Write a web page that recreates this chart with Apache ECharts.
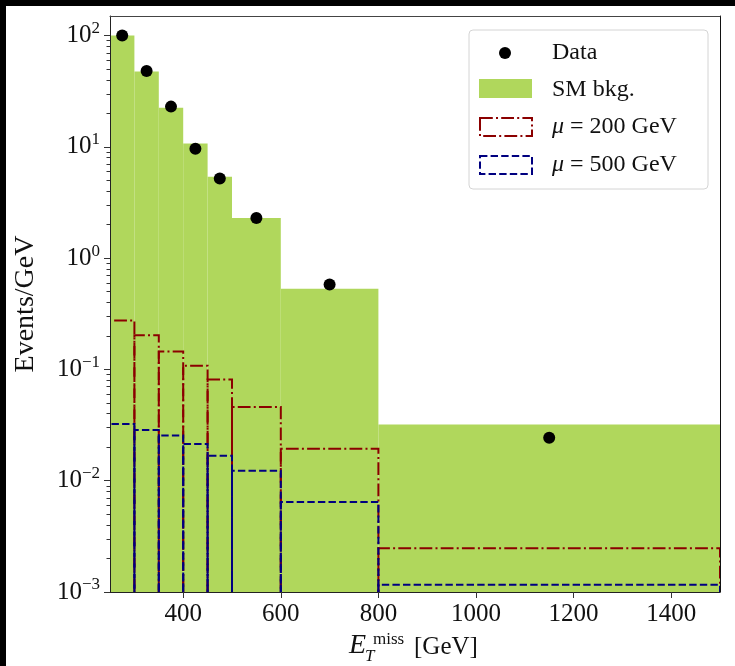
<!DOCTYPE html>
<html>
<head>
<meta charset="utf-8">
<script src="https://cdn.jsdelivr.net/npm/echarts@6/dist/echarts.min.js"></script>
<style>
html, body { margin: 0; padding: 0; background: #000; }
#main { position: absolute; left: 6px; top: 6px; width: 729px; height: 660px; background: #fff; }
</style>
</head>
<body>
<div id="main"></div>
<script>
// bin edges and histogram heights
var binEdges = [250, 300, 350, 400, 450, 500, 600, 800, 1500];
var smBkg = [100, 47.5, 22.5, 10.7, 5.4, 2.3, 0.53, 0.032];
var mu200 = [0.275, 0.203, 0.145, 0.108, 0.081, 0.046, 0.0194, 0.00247];
var mu500 = [0.0324, 0.0286, 0.0255, 0.0214, 0.0168, 0.0123, 0.00645, 0.00116];
// measured points
var dataX = [275, 325, 375, 425, 475, 550, 700, 1150];
var dataY = [100, 48, 23, 9.6, 5.2, 2.3, 0.58, 0.0243];
// ticks
var xTicks = [400, 600, 800, 1000, 1200, 1400];
var yTicks = [0.001, 0.01, 0.1, 1, 10, 100];
var yMin = 0.001, yMax = 150;

var serif = "Liberation Serif";
var green = "#b0d75c";

// minor ticks 2..9 in every decade
var yMinor = [];
yTicks.forEach(function (d) {
  for (var k = 2; k <= 9; k++) {
    if (k * d < yMax) yMinor.push(+(k * d).toPrecision(3));
  }
});

function bins(vals) {
  return vals.map(function (v, i) { return [binEdges[i], binEdges[i + 1], v]; });
}

function barItem(params, api) {
  var p0 = api.coord([api.value(0), api.value(2)]);
  var p1 = api.coord([api.value(1), yMin]);
  return {
    type: "rect",
    shape: { x: p0[0], y: p0[1], width: p1[0] - p0[0], height: p1[1] - p0[1] },
    style: { fill: green }
  };
}

function outline(color, dash) {
  return function (params, api) {
    var x0 = api.value(0), x1 = api.value(1), v = api.value(2);
    return {
      type: "polyline",
      shape: { points: [api.coord([x0, yMin]), api.coord([x0, v]), api.coord([x1, v]), api.coord([x1, yMin])] },
      style: { stroke: color, fill: "none", lineWidth: 2, lineDash: dash }
    };
  };
}

var dashDot = [12.8, 3.2, 2, 3.2];
var dashed = [7.4, 3.2];

var myChart = echarts.init(document.getElementById("main"));

var option = {
  animation: false,
  grid: { left: 104, right: 15, top: 10, bottom: 74, containLabel: false, outerBoundsMode: "none" },
  xAxis: [
    {
      type: "value", min: 250, max: 1500, z: 10,
      axisLine: { onZero: false, lineStyle: { color: "#222", width: 1 } },
      axisTick: { customValues: xTicks, length: 6, lineStyle: { color: "#333" } },
      axisLabel: {
        customValues: xTicks, margin: 10, color: "#111", fontSize: 25, fontFamily: serif,
        formatter: function (v) { return String(v); }
      },
      splitLine: { show: false }
    },
    {
      type: "value", min: 250, max: 1500, position: "top", z: 10,
      axisLine: { onZero: false, lineStyle: { color: "#444", width: 1 } },
      axisTick: { show: false }, axisLabel: { show: false }, splitLine: { show: false }
    }
  ],
  yAxis: [
    {
      type: "log", min: yMin, max: yMax, z: 10, position: "left",
      name: "Events/GeV", nameLocation: "middle", nameGap: 70,
      nameTextStyle: { fontSize: 28, fontFamily: serif, color: "#111" },
      axisLine: { show: true, lineStyle: { color: "#222", width: 1 } },
      axisTick: { customValues: yTicks, length: 6, lineStyle: { color: "#333" } },
      axisLabel: {
        customValues: yTicks, margin: 10,
        formatter: function (v) {
          var e = Math.round(Math.log10(v));
          return "{b|10}{s|" + (e < 0 ? "\u2212" + (-e) : e) + "}";
        },
        rich: {
          b: { fontSize: 25, fontFamily: serif, color: "#111" },
          s: { fontSize: 17, fontFamily: serif, color: "#111", padding: [0, 0, 14, 0] }
        }
      },
      splitLine: { show: false }
    },
    {
      // minor ticks only
      type: "log", min: yMin, max: yMax, z: 10, position: "left", offset: 0,
      axisLine: { show: false },
      axisTick: { show: true, customValues: yMinor, length: 3.5, lineStyle: { color: "#333" } },
      axisLabel: { show: false }, splitLine: { show: false }
    },
    {
      type: "log", min: yMin, max: yMax, z: 10, position: "right", offset: 0,
      axisLine: { show: true, lineStyle: { color: "#111", width: 1 } },
      axisTick: { show: false }, axisLabel: { show: false }, splitLine: { show: false }
    }
  ],
  series: [
    {
      name: "SM bkg.", type: "custom", renderItem: barItem, clip: true,
      encode: { x: [0, 1], y: 2 }, data: bins(smBkg)
    },
    {
      name: "mu200", type: "custom", renderItem: outline("#8b0000", dashDot), clip: true,
      encode: { x: [0, 1], y: 2 }, data: bins(mu200)
    },
    {
      name: "mu500", type: "custom", renderItem: outline("#000080", dashed), clip: true,
      encode: { x: [0, 1], y: 2 }, data: bins(mu500)
    },
    {
      name: "Data", type: "scatter", z: 4, symbolSize: 12,
      itemStyle: { color: "#000", opacity: 1 },
      data: dataX.map(function (x, i) { return [x, dataY[i]]; })
    }
  ],
  graphic: [
    // legend
    { type: "rect", z: 20, shape: { x: 463, y: 24, width: 239, height: 159, r: 4 },
      style: { fill: "rgba(255,255,255,0.85)", stroke: "#d4d4d4", lineWidth: 1 } },
    { type: "circle", z: 21, shape: { cx: 499, cy: 47, r: 6 }, style: { fill: "#000" } },
    { type: "rect", z: 21, shape: { x: 473, y: 73, width: 53, height: 19 }, style: { fill: green } },
    { type: "rect", z: 21, shape: { x: 474, y: 112, width: 52, height: 18 },
      style: { fill: "none", stroke: "#8b0000", lineWidth: 2, lineDash: dashDot } },
    { type: "rect", z: 21, shape: { x: 474, y: 150, width: 52, height: 18 },
      style: { fill: "none", stroke: "#000080", lineWidth: 2, lineDash: dashed } },
    { type: "text", z: 21, x: 546, y: 47,
      style: { text: "Data", font: "24px " + serif, fill: "#111", verticalAlign: "middle" } },
    { type: "text", z: 21, x: 546, y: 84,
      style: { text: "SM bkg.", font: "24px " + serif, fill: "#111", verticalAlign: "middle" } },
    { type: "text", z: 21, x: 546, y: 121,
      style: { text: "{i|\u03bc} = 200 GeV", font: "24px " + serif, fill: "#111", verticalAlign: "middle",
        rich: { i: { font: "italic 24px " + serif, fontStyle: "italic", fontSize: 24, fontFamily: serif } } } },
    { type: "text", z: 21, x: 546, y: 159,
      style: { text: "{i|\u03bc} = 500 GeV", font: "24px " + serif, fill: "#111", verticalAlign: "middle",
        rich: { i: { font: "italic 24px " + serif, fontStyle: "italic", fontSize: 24, fontFamily: serif } } } },
    // x axis title
    { type: "text", x: 343, y: 640,
      style: { text: "E", font: "italic 28px " + serif, fill: "#111", verticalAlign: "middle" } },
    { type: "text", x: 367, y: 634,
      style: { text: "miss", font: "17px " + serif, fill: "#111", verticalAlign: "middle" } },
    { type: "text", x: 359, y: 651,
      style: { text: "T", font: "italic 17px " + serif, fill: "#111", verticalAlign: "middle" } },
    { type: "text", x: 408, y: 641,
      style: { text: "[GeV]", font: "25px " + serif, fill: "#111", verticalAlign: "middle" } }
  ]
};

myChart.setOption(option);
</script>
</body>
</html>
